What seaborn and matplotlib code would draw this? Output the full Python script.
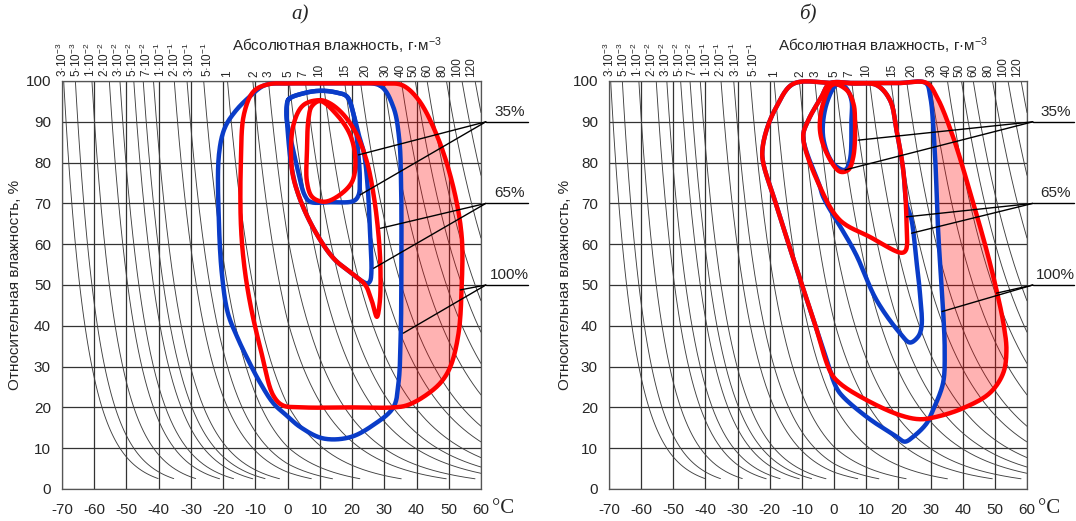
import numpy as np
import matplotlib
matplotlib.use("Agg")
import matplotlib.pyplot as plt
import seaborn as sns
import pandas as pd

# ---------------- data ----------------
# absolute humidity levels (g/m^3) of the background curves / top scale
ah_levels = [3e-3, 5e-3, 1e-2, 2e-2, 3e-2, 5e-2, 7e-2, 1e-1, 2e-1, 3e-1, 5e-1,
             1, 2, 3, 5, 7, 10, 15, 20, 30, 40, 50, 60, 80, 100, 120]
ah_labels = ['3·10$^{-3}$', '5·10$^{-3}$', '1·10$^{-2}$', '2·10$^{-2}$', '3·10$^{-2}$',
             '5·10$^{-2}$', '7·10$^{-2}$', '1·10$^{-1}$', '2·10$^{-1}$', '3·10$^{-1}$',
             '5·10$^{-1}$', '1', '2', '3', '5', '7', '10', '15', '20', '30', '40', '50',
             '60', '80', '100', '120']
# where the top-scale labels sit (°C)
ah_label_T = [-70.0, -65.65, -61.3, -56.96, -52.6, -48.26, -43.91, -39.57, -35.22, -30.56, -25.0,
              -18.8, -10.4, -5.9, 0.2, 4.8, 9.8, 17.9, 24.1, 30.3, 35.0, 39.0, 43.4, 48.0,
              52.7, 57.0]
x_ticks = list(range(-70, 61, 10))
y_ticks = list(range(0, 101, 10))

# panel a) contours (temperature °C, relative humidity %)
red100_a_T = [30, 35.5, 40.5, 46.5, 51.4, 54.0, 54.0, 53.0, 50.5, 47.4, 42, 37, 33, 20, 5, -1.5, -4.5, -8, -11.5, -13.5, -14.5, -14.5, -13.5, -10.5, -6, 0, 10, 20]
red100_a_RH = [99.4, 99.0, 95.5, 86.3, 74, 62, 49.5, 38, 30, 26, 22.5, 20.5, 20, 20, 20, 20.5, 23, 33, 45, 55, 65, 80, 92, 97.5, 99.2, 99.4, 99.4, 99.4]
blue100_a_T = [28.8, 32.8, 34.6, 35.2, 35.3, 35.1, 34.4, 32.8, 26.6, 19.4, 11, 3.9, 0, -4.4, -8.5, -12.5, -15.5, -18.5, -20.3, -21.3, -21.3, -19.5, -16.3, -12, -7, 0, 10, 20]
blue100_a_RH = [98.8, 93.6, 86, 75, 55, 38, 26, 20, 15.7, 12.7, 12.4, 15.2, 17.8, 21, 26, 32, 37, 43, 52, 65, 82, 88.5, 92.5, 96, 99, 99.4, 99.4, 99.4]
blue65_a_T = [0.3, 5, 10.1, 15, 18.4, 20.5, 22, 23.6, 24.8, 25.6, 26, 25.6, 24.8, 23.4, 20.5, 14.3, 8, 3.4, 1.3, 0, -0.3]
blue65_a_RH = [95.5, 97, 97.6, 97.2, 96.2, 91.7, 87, 82.7, 74.5, 62.3, 53.3, 51, 50.4, 50.8, 52.5, 56.5, 63.9, 72, 78.6, 88, 93.5]
blue35_a_T = [0.3, 5, 10.1, 15, 18.4, 20.5, 21.7, 22.4, 22, 20.5, 13.2, 7, 5.3, 3.2, 1.2, -0.2, -0.3]
blue35_a_RH = [95.5, 97, 97.6, 97.2, 96.2, 91.7, 84.3, 76, 72, 70.6, 70.3, 70.4, 72, 78, 85, 90, 93.5]
red65_a_T = [10.1, 13.2, 17.4, 21.5, 24.6, 26.7, 28.2, 28.8, 28.6, 27.7, 26.2, 24.1, 20.5, 14.3, 8, 3.4, 1.3, 1.8, 4.9]
red65_a_RH = [95.3, 94.5, 91.7, 86.8, 80.2, 72, 62.3, 54.1, 45.9, 42.2, 45.9, 50, 52.5, 56.5, 63.9, 72, 78.6, 89.2, 94.1]
red35_a_T = [10.1, 15.3, 19.4, 21, 20, 15.3, 11.2, 7.6, 6, 6, 6.5, 7.5]
red35_a_RH = [95.1, 91.7, 86.8, 81, 75.3, 71.6, 70.4, 71.6, 75.3, 82.7, 90.9, 93.8]

# panel б) contours
red100_b_T = [10, 20, 28.8, 31.9, 37, 43.3, 47.4, 50.5, 52.8, 53.6, 52.6, 48.4, 40.1, 31.9, 26.7, 20.5, 10.1, 1.8, -1, -6, -12.5, -17.5, -22, -22.3, -21, -17.9, -12.7, 0]
red100_b_RH = [99.5, 99.5, 99.5, 96.2, 86.3, 70, 58.6, 48.8, 40, 34, 28.4, 23.5, 19.8, 17.7, 17.1, 18.1, 21.8, 25.9, 28.5, 40.5, 56, 68.5, 79.8, 83, 88, 93.7, 99.3, 99.5]
blue100_b_T = [10, 20, 28.5, 29.9, 31.3, 32.4, 33.4, 33.9, 34.4, 33.9, 30.8, 28.8, 24.6, 22, 19.5, 10.1, 1.8, -0.3, -1, -6, -12.5, -17.5, -22, -22.3, -21, -17.9, -12.7, 0]
blue100_b_RH = [99.5, 99.5, 99.5, 96.2, 83.1, 62.7, 50, 43.9, 34, 26, 19.4, 16.1, 12.8, 11.6, 12.8, 17.7, 23.5, 26.7, 28.5, 40.5, 56, 68.5, 79.8, 83, 88, 93.7, 99.3, 99.5]
blue65_b_T = [-1.3, 6, 13.2, 17.4, 19.4, 21.5, 22.5, 24.1, 25.6, 26.7, 27.2, 26.1, 23.6, 20.5, 13.2, 6.5, -3.4, -4.4, -9.6, -8, -4]
blue65_b_RH = [99.4, 99.4, 99, 95.3, 88, 78.2, 70, 65.9, 56, 48, 39.8, 37.3, 35.9, 38.2, 46.3, 58, 71.6, 74.1, 86.3, 90.4, 96]
red65_b_T = [-1.3, 6, 13.2, 17.4, 19.4, 21.5, 22.5, 22.3, 21, 11.1, 1.8, -4.4, -9.6, -8, -4]
red65_b_RH = [99.4, 99.4, 99, 95.3, 88, 78.2, 66, 58.5, 57.9, 61.8, 65.9, 74.1, 86.3, 90.4, 96]
blue35_b_T = [1.0, 3.5, 5.4, 5.4, 4.9, 3.4, -0.3, -3.4, -2.3]
blue35_b_RH = [99.2, 98.5, 95.3, 90.4, 80.6, 78.2, 79.8, 86.3, 94.5]
red35_b_T = [-0.3, 3.9, 6, 6.5, 6, 4.4, 1.8, -2.3, -4.4, -3.4]
red35_b_RH = [99.2, 97.8, 94.5, 90.4, 81.5, 78.2, 77.8, 82.3, 88, 94.5]

# annotation labels and leader targets
note_texts = ['35%', '65%', '100%']
note_rh = [90, 70, 50]
leaders_a = [[(22.0, 81.9), (22.5, 72.1)], [(28.8, 63.9), (26.7, 54.1)], [(53.6, 48.8), (35.9, 38.2)]]
leaders_b = [[(7.5, 85.5), (3.4, 78.2)], [(22.5, 66.7), (24.1, 62.7)], [(50.5, 48.0), (33.6, 43.5)]]

# ---------------- style ----------------
sns.set_style("white")
plt.rcParams['font.family'] = ['Liberation Sans', 'DejaVu Sans']
plt.rcParams['mathtext.fontset'] = 'custom'
plt.rcParams['mathtext.rm'] = 'Liberation Sans'
plt.rcParams['mathtext.it'] = 'Liberation Sans:italic'
plt.rcParams['axes.unicode_minus'] = False

BLUE = '#0a3cc8'
RED = '#ff0000'
SX, SY = 3.22, 4.08  # px per unit for smoothing parameterisation


def ah_sat(T):
    T = np.asarray(T, float)
    es = np.where(T < 0, 6.112 * np.exp(22.46 * T / (272.62 + T)),
                  6.112 * np.exp(17.62 * T / (243.12 + T)))
    return es * 216.7 / (T + 273.15)


def smooth_closed(xs, ys, n=16):
    P = np.column_stack([np.asarray(xs, float) * SX, np.asarray(ys, float) * SY])
    N = len(P)
    out = []
    for i in range(N):
        p0, p1, p2, p3 = P[(i - 1) % N], P[i], P[(i + 1) % N], P[(i + 2) % N]
        def tj(ti, a, b):
            return ti + max(np.hypot(*(b - a)), 1e-6) ** 0.5
        t0 = 0.0
        t1 = tj(t0, p0, p1)
        t2 = tj(t1, p1, p2)
        t3 = tj(t2, p2, p3)
        t = np.linspace(t1, t2, n, endpoint=False)[:, None]
        A1 = (t1 - t) / (t1 - t0) * p0 + (t - t0) / (t1 - t0) * p1
        A2 = (t2 - t) / (t2 - t1) * p1 + (t - t1) / (t2 - t1) * p2
        A3 = (t3 - t) / (t3 - t2) * p2 + (t - t2) / (t3 - t2) * p3
        B1 = (t2 - t) / (t2 - t0) * A1 + (t - t0) / (t2 - t0) * A2
        B2 = (t3 - t) / (t3 - t1) * A2 + (t - t1) / (t3 - t1) * A3
        out.append((t2 - t) / (t2 - t1) * B1 + (t - t1) / (t2 - t1) * B2)
    out.append(P[:1])
    C = np.vstack(out)
    return C[:, 0] / SX, C[:, 1] / SY


def xmax_at(xs, ys, yq):
    res = np.full(len(yq), np.nan)
    x0, x1, y0, y1 = xs[:-1], xs[1:], ys[:-1], ys[1:]
    for k, y in enumerate(yq):
        m = ((y0 - y) * (y1 - y) <= 0) & (y0 != y1)
        if m.any():
            xi = x0[m] + (y - y0[m]) * (x1[m] - x0[m]) / (y1[m] - y0[m])
            res[k] = xi.max()
    return res


Tgrid = np.linspace(-85, 70, 20001)
dew = np.interp(np.log(ah_levels), np.log(ah_sat(Tgrid)), Tgrid)

rows = []
for lvl, td in zip(ah_levels, dew):
    T = np.linspace(td, 60, 500)
    rh = 100 * lvl / ah_sat(T)
    m = rh >= 2.5
    for a, b in zip(T[m], rh[m]):
        rows.append((lvl, a, b))
bg = pd.DataFrame(rows, columns=['level', 'T', 'RH'])

fig = plt.figure(figsize=(10.76, 5.21), dpi=100)
ax_a = fig.add_axes([62 / 1076, 32 / 521, 419 / 1076, 408 / 521])
ax_b = fig.add_axes([609 / 1076, 32 / 521, 418 / 1076, 408 / 521])

panels = [
    (ax_a, 'а)', 0.568,
     [(blue100_a_T, blue100_a_RH), (blue65_a_T, blue65_a_RH), (blue35_a_T, blue35_a_RH)],
     [(red100_a_T, red100_a_RH), (red65_a_T, red65_a_RH), (red35_a_T, red35_a_RH)],
     leaders_a, 61.5, 15),
    (ax_b, 'б)', 0.476,
     [(blue100_b_T, blue100_b_RH), (blue65_b_T, blue65_b_RH), (blue35_b_T, blue35_b_RH)],
     [(red100_b_T, red100_b_RH), (red65_b_T, red65_b_RH), (red35_b_T, red35_b_RH)],
     leaders_b, 61.8, 565),
]

for ax, title, tx, blues, reds, leaders, lx0, ylab_px in panels:
    ax.set_xlim(-70, 60)
    ax.set_ylim(0, 100)
    ax.set_xticks(x_ticks)
    ax.set_yticks(y_ticks)
    ax.set_xticklabels([str(v) for v in x_ticks])
    ax.grid(True, color='#333333', lw=0.9)
    ax.set_axisbelow(True)
    for s in ax.spines.values():
        s.set_color('#555555')
        s.set_linewidth(0.9)
    ax.tick_params(axis='x', length=0, labelsize=11, pad=10)
    ax.tick_params(axis='y', length=0, labelsize=11, pad=8)

    sns.lineplot(data=bg, x='T', y='RH', units='level', estimator=None, sort=False,
                 color='#404040', lw=0.65, ax=ax, zorder=1.5, legend=False)

    # pink zone between the blue and red 100% envelopes
    bx, by = smooth_closed(*blues[0])
    rx, ry = smooth_closed(*reds[0])
    yq = np.linspace(0, 100, 1001)
    xb = xmax_at(bx, by, yq)
    xr = xmax_at(rx, ry, yq)
    ok = np.isfinite(xb) & np.isfinite(xr) & (xr > xb)
    ax.fill_betweenx(yq, np.where(ok, xb, 0), np.where(ok, xr, 0), where=ok,
                     color=RED, alpha=0.3, lw=0, zorder=2)

    for T, RH in blues:
        sx_, sy_ = smooth_closed(T, RH)
        sns.lineplot(x=sx_, y=sy_, sort=False, estimator=None, color=BLUE, lw=3.2,
                     ax=ax, zorder=3, solid_joinstyle='round', clip_on=False)
    for T, RH in reds:
        sx_, sy_ = smooth_closed(T, RH)
        sns.lineplot(x=sx_, y=sy_, sort=False, estimator=None, color=RED, lw=3.2,
                     ax=ax, zorder=4, solid_joinstyle='round', clip_on=False)

    ax.set_xlabel('')
    ax.set_ylabel('')

    # annotations
    for txt, rh, pts in zip(note_texts, note_rh, leaders):
        ax.plot([lx0, 74.5], [rh, rh], color='black', lw=1.0, clip_on=False, zorder=5)
        for (px, py) in pts:
            ax.plot([lx0, px], [rh, py], color='black', lw=1.0, clip_on=False, zorder=5)
        ax.text(68.8, rh + 0.8, txt, ha='center', va='bottom', fontsize=11, clip_on=False)

    # top absolute-humidity scale
    for lab, lt in zip(ah_labels, ah_label_T):
        ax.text(lt, 100.9, lab, rotation=90, ha='center', va='bottom', fontsize=8.5,
                clip_on=False)
    ax.text(0.656, 1.086, 'Абсолютная влажность, г·м$^{-3}$', transform=ax.transAxes,
            ha='center', va='center', fontsize=11)
    ax.text(tx, 1.162, title, transform=ax.transAxes, ha='center', va='center',
            fontsize=15, family='Liberation Serif', style='italic')
    ax.text(67, -4.9, '°C', ha='center', va='center', fontsize=15,
            family='Liberation Serif', clip_on=False)
    fig.text(ylab_px / 1076, 1 - 285 / 521, 'Относительная влажность, %', rotation=90,
             ha='center', va='center', fontsize=11)

fig.savefig('out.png', dpi=100)
